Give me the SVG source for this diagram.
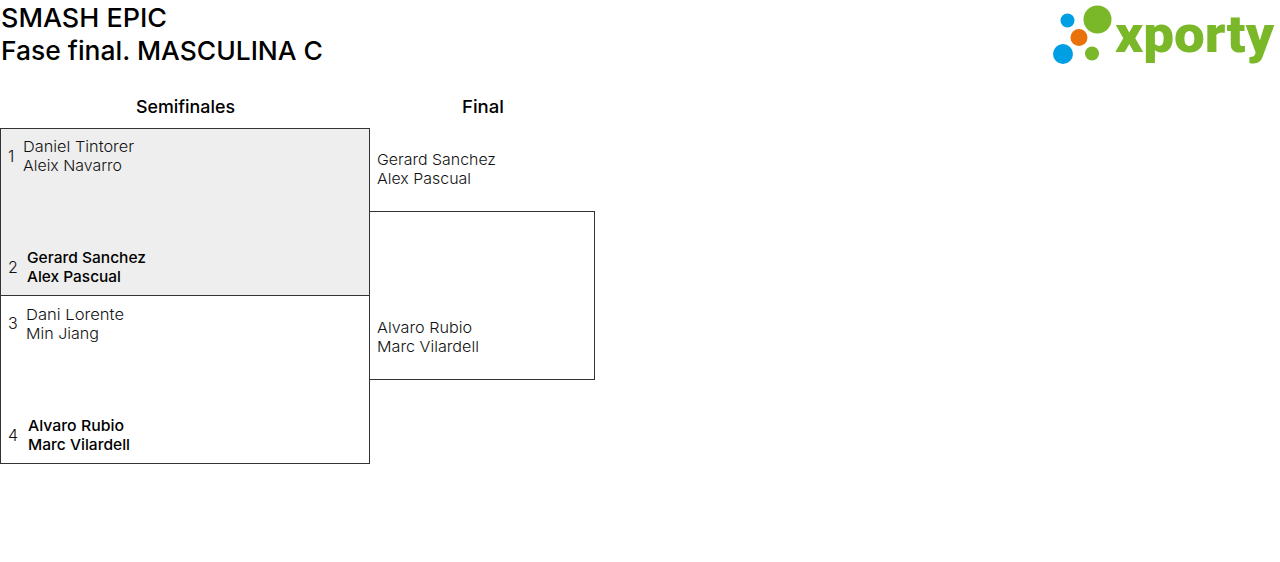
<svg xmlns="http://www.w3.org/2000/svg" width="1280" height="562" viewBox="0 0 1280 562">
<style>
text{font-family:"Inter","Liberation Sans",sans-serif;fill:#000}
.t{font-size:26px;font-weight:500}
.h{font-size:17.500px;font-weight:500}
.n{font-size:15px;font-weight:300;fill:#111}
.i{font-size:16px;font-weight:300;fill:#111}
.b{font-size:15px;font-weight:500}
.box{fill:#fff;stroke:#333;stroke-width:1}
.g{fill:#eee}
.lg{fill:#7ab829}
.lb{fill:#009fe3}
</style>
<rect width="1280" height="562" fill="#fff"/>
<g id="title">
<text class="t" x="1" y="27" textLength="166" lengthAdjust="spacingAndGlyphs">SMASH EPIC</text>
<text class="t" x="1" y="60" textLength="322" lengthAdjust="spacingAndGlyphs">Fase final. MASCULINA C</text>
</g>
<g id="logo">
<circle class="lg" cx="1097.500" cy="19.500" r="14"/>
<circle class="lb" cx="1067.500" cy="20.500" r="7"/>
<circle cx="1079" cy="37.500" r="8.500" fill="#e8710a"/>
<circle class="lb" cx="1063" cy="54" r="10"/>
<circle class="lg" cx="1092" cy="53.500" r="7"/>
<text x="1115" y="52" textLength="159" lengthAdjust="spacingAndGlyphs" style="font-family:Roboto,'Liberation Sans',sans-serif;font-size:52px;font-weight:900;fill:#7ab829">xporty</text>
</g>
<g id="round-headers">
<text class="h" x="136" y="113" textLength="99" lengthAdjust="spacingAndGlyphs">Semifinales</text>
<text class="h" x="462" y="113" textLength="42" lengthAdjust="spacingAndGlyphs">Final</text>
</g>
<g id="connectors">
<rect class="box" x="369.500" y="211.500" width="225" height="168"/>
</g>
<g id="match-1">
<rect class="box g" x="0.500" y="128.500" width="369" height="167"/>
<text class="i" x="8" y="162">1</text>
<text class="n" x="23" y="152" textLength="111" lengthAdjust="spacingAndGlyphs">Daniel Tintorer</text>
<text class="n" x="23" y="171" textLength="99" lengthAdjust="spacingAndGlyphs">Aleix Navarro</text>
<text class="i" x="8" y="273">2</text>
<text class="b" x="27" y="263" textLength="119" lengthAdjust="spacingAndGlyphs">Gerard Sanchez</text>
<text class="b" x="27" y="282" textLength="94" lengthAdjust="spacingAndGlyphs">Alex Pascual</text>
</g>
<g id="match-2">
<rect class="box" x="0.500" y="295.500" width="369" height="168"/>
<text class="i" x="8" y="329">3</text>
<text class="n" x="26" y="320" textLength="98" lengthAdjust="spacingAndGlyphs">Dani Lorente</text>
<text class="n" x="26" y="339" textLength="73" lengthAdjust="spacingAndGlyphs">Min Jiang</text>
<text class="i" x="8" y="441">4</text>
<text class="b" x="28" y="431" textLength="96" lengthAdjust="spacingAndGlyphs">Alvaro Rubio</text>
<text class="b" x="28" y="450" textLength="102" lengthAdjust="spacingAndGlyphs">Marc Vilardell</text>
</g>
<g id="final">
<text class="n" x="377" y="165" textLength="119" lengthAdjust="spacingAndGlyphs">Gerard Sanchez</text>
<text class="n" x="377" y="184" textLength="94" lengthAdjust="spacingAndGlyphs">Alex Pascual</text>
<text class="n" x="377" y="333" textLength="95" lengthAdjust="spacingAndGlyphs">Alvaro Rubio</text>
<text class="n" x="377" y="352" textLength="102" lengthAdjust="spacingAndGlyphs">Marc Vilardell</text>
</g>
</svg>
